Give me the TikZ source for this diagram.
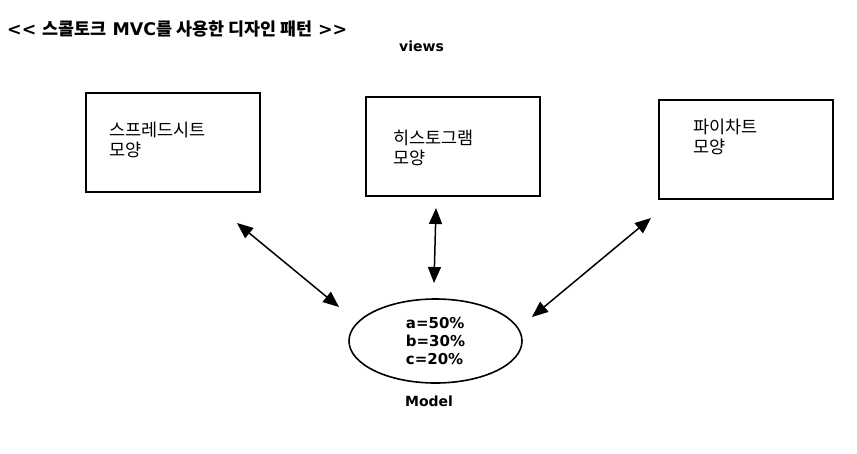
\documentclass[tikz,border=0pt]{standalone}
\usepackage{fontspec}
\setmainfont{DejaVu Sans}
\newfontfamily\kor{Noto Sans CJK KR}
\usetikzlibrary{arrows.meta,shapes.geometric}
\tikzset{
  viewbox/.style={draw,line width=1.6pt,minimum width=174pt,minimum height=99pt,inner sep=0pt},
  kortext/.style={font=\kor\fontsize{17.5pt}{20pt}\selectfont,align=left,inner sep=0pt,anchor=base west},
  lbl/.style={font=\bfseries\fontsize{14pt}{18pt}\selectfont,inner sep=0pt,anchor=base},
  link/.style={line width=1.5pt,{Triangle[length=16pt,width=13pt]}-{Triangle[length=16pt,width=13pt]}}
}
\begin{document}
\begin{tikzpicture}[x=1pt,y=-1pt]
\useasboundingbox (0,0) rectangle (857,453);
% title
\node[inner sep=0pt,anchor=base west] (title) at (7,35)
  {\fontsize{17.4pt}{18pt}\selectfont\bfseries {<}{<}\ {\kor 스콜토크} MVC{\kor 를 사용한 디자인 패턴} {>}{>}};
\node[lbl] (views) at (421.5,51) {views};
% view boxes
\node[viewbox] (b1) at (173,142.5) {};
\node[viewbox] (b2) at (453,146.5) {};
\node[viewbox] (b3) at (746,149.5) {};
\node[kortext] (t1) at (109,156) {스프레드시트\\모양};
\node[kortext] (t2) at (393,164) {히스토그램\\모양};
\node[kortext] (t3) at (693,153) {파이차트\\모양};
% model
\node[draw,ellipse,line width=1.6pt,minimum width=173pt,minimum height=84pt,inner sep=0pt,
  align=left,font=\bfseries\fontsize{15pt}{18pt}\selectfont] (model) at (435.5,341) {a=50\%\\b=30\%\\c=20\%};
\node[lbl] (mlabel) at (429,406) {Model};
% arrow end points
\coordinate (a1) at (237,223);
\coordinate (m1) at (339,307);
\coordinate (a2) at (436,208);
\coordinate (m2) at (434,283);
\coordinate (a3) at (651,218);
\coordinate (m3) at (532,317);
\draw[link] (a1) -- (m1);
\draw[link] (a2) -- (m2);
\draw[link] (a3) -- (m3);
\end{tikzpicture}
\end{document}
